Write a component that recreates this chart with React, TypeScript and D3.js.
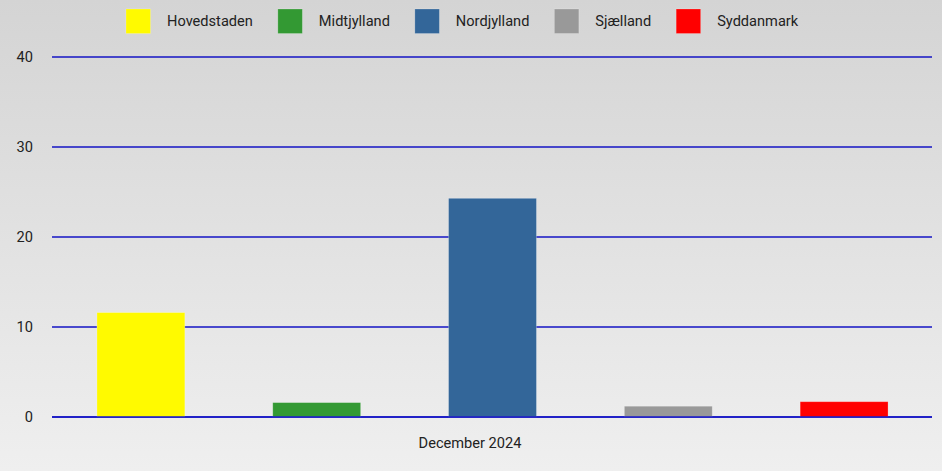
import React, { useMemo } from "react";
import * as d3 from "d3";

const regions = ["Hovedstaden", "Midtjylland", "Nordjylland", "Sjælland", "Syddanmark"];
const values = [11.6, 1.6, 24.3, 1.2, 1.7];
const colors = ["#fffa00", "#339933", "#336699", "#999999", "#ff0000"];
const yTicks = [0, 10, 20, 30, 40];
const periodLabel = "December 2024";

const W = 942;
const H = 471;
const FONT = "Roboto, 'Noto Sans', sans-serif";
const FS = 14.6;

function measure(text: string, size: number): number {
  if (typeof document === "undefined") return text.length * size * 0.55;
  const c = document.createElement("canvas");
  const ctx = c.getContext("2d");
  if (!ctx) return text.length * size * 0.55;
  ctx.font = `${size}px Roboto`;
  return ctx.measureText(text).width;
}

export default function App() {
  const margin = { left: 53, right: 10, top: 57, bottom: 54 };
  const x = d3
    .scaleBand<string>()
    .domain(regions)
    .range([margin.left, W - margin.right])
    .paddingInner(0.5)
    .paddingOuter(0.25);
  const y = d3.scaleLinear().domain([0, 40]).range([H - margin.bottom, margin.top]);

  const legend = useMemo(() => {
    let cx = 126;
    return regions.map((r, i) => {
      const tw = measure(r, FS);
      const item = { x: cx, textX: cx + 41, label: r, color: colors[i] };
      cx += 41 + tw + 25;
      return item;
    });
  }, []);

  return (
    <svg
      width={W}
      height={H}
      style={{ position: "absolute", left: 0, top: 0, display: "block" }}
      fontFamily={FONT}
    >
      <defs>
        <linearGradient id="bg" x1="0" y1="0" x2="0" y2="1">
          <stop offset="0%" stopColor="#d4d4d4" />
          <stop offset="100%" stopColor="#efefef" />
        </linearGradient>
      </defs>
      <rect x={0} y={0} width={W} height={H} fill="url(#bg)" />

      {legend.map((l) => (
        <g key={l.label}>
          <rect x={l.x} y={9} width={24.5} height={24.5} fill={l.color} stroke="rgba(255,255,255,0.25)" strokeWidth={0.8} />
          <text x={l.textX} y={25.5} fontSize={FS} fill="#222">
            {l.label}
          </text>
        </g>
      ))}

      {yTicks.map((t) => (
        <g key={t}>
          <line
            x1={margin.left - 1}
            x2={W - margin.right}
            y1={y(t)}
            y2={y(t)}
            stroke="#1414c4"
            strokeWidth={1.3}
          />
          <text x={33} y={y(t) + 5} fontSize={FS} fill="#222" textAnchor="end">
            {t}
          </text>
        </g>
      ))}

      {regions.map((r, i) => (
        <rect
          key={r}
          x={x(r)}
          y={y(values[i])}
          width={x.bandwidth()}
          height={y(0) - y(values[i])}
          fill={colors[i]}
          stroke="rgba(255,255,255,0.3)"
          strokeWidth={0.8}
        />
      ))}

      <line x1={margin.left - 1} x2={W - margin.right} y1={y(0)} y2={y(0)} stroke="#1414c4" strokeWidth={1.3} />

      <text x={470} y={448} fontSize={FS} fill="#222" textAnchor="middle">
        {periodLabel}
      </text>
    </svg>
  );
}
